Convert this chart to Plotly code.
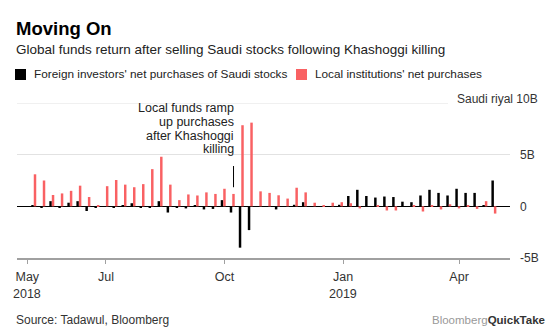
import plotly.graph_objects as go
import pandas as pd

# ---- data (billions of Saudi riyal, weekly) ----
week_start = "2018-05-06"
n_weeks = 52
foreign = [0.1, -0.15, 0.5, -0.1, 0.35, 0.5, -0.45, -0.1, -0.05, -0.1,
           0.1, 0.3, -0.1, -0.15, 0.5, -0.6, -0.1, -0.2, 0.05, -0.3,
           -0.25, 0.6, -0.6, -4.0, -2.3, 0.0, 0.0, -0.3, -0.05, 0.15,
           0.4, 0.0, 0.0, 0.0, 0.15, 1.0, 1.6, 1.0, 0.85, 0.95,
           0.9, 0.45, 0.4, 1.05, 1.6, 1.3, 1.05, 1.7, 1.3, 1.3,
           0.1, 2.5]
local = [3.1, 2.5, 1.1, 1.25, 1.5, 2.0, 0.9, 0.1, 1.95, 2.55,
         2.1, 1.85, 2.15, 3.6, 4.8, 2.1, 0.6, 1.15, 1.05, 1.35,
         1.2, 1.7, 1.2, 7.85, 8.1, 1.45, 1.3, 1.07, 0.75, 1.8,
         1.35, 0.35, 0.05, 0.35, 0.4, 0.3, -0.2, 0.0, 0.05, -0.4,
         -0.4, 0.0, 0.05, -0.5, 0.05, -0.3, 0.2, -0.2, 0.05, -0.25,
         0.5, -0.7]
tick_dates = ["2018-05-01", "2018-07-01", "2018-10-01", "2019-01-01", "2019-04-01"]
tick_labels = ["May", "Jul", "Oct", "Jan", "Apr"]
year_labels = [("2018-05-01", "2018"), ("2019-01-01", "2019")]
y_ticks = [-5, 0, 5]
y_tick_labels = ["-5B", "0", "5B"]
series_names = ["Foreign investors' net purchases of Saudi stocks",
                "Local institutions' net purchases"]
colors = ["#000000", "#f96163"]
event_week = "2018-10-08"
annotation_lines = ["Local funds ramp", "up purchases", "after Khashoggi", "killing"]

weeks = pd.date_range(week_start, periods=n_weeks, freq="7D")

W, H = 560, 331
L, R, T, B = 17, 50, 103, 73
PW, PH = W - L - R, H - T - B


def px(x):
    return (x - L) / PW


def py(y):
    return (H - B - y) / PH


FONT = "Liberation Sans, Arial, sans-serif"

fig = go.Figure()
fig.add_bar(x=weeks, y=foreign, name=series_names[0], marker_color=colors[0],
            marker_line_width=0, showlegend=False)
fig.add_bar(x=weeks, y=local, name=series_names[1], marker_color=colors[1],
            marker_line_width=0, showlegend=False)

fig.update_layout(
    width=W, height=H,
    margin=dict(l=L, r=R, t=T, b=B, pad=0),
    paper_bgcolor="white", plot_bgcolor="white",
    barmode="group", bargap=0.45, bargroupgap=0,
    font=dict(family=FONT, color="#333", size=12),
    xaxis=dict(type="date", range=["2018-04-23", "2019-05-10 12:00"],
               tickvals=tick_dates, ticktext=tick_labels,
               showgrid=False, zeroline=False,
               showline=True, linecolor="#a0a0a0", linewidth=2,
               ticks="outside", ticklen=4, tickcolor="#a0a0a0", tickwidth=1,
               ticklabelstandoff=2,
               tickfont=dict(size=12.5, color="#333")),
    yaxis=dict(range=[-5, 10], side="right", tickvals=y_ticks, ticktext=y_tick_labels,
               showgrid=True, gridcolor="#e2e2e2", gridwidth=1,
               zeroline=True, zerolinecolor="#000", zerolinewidth=1,
               showline=False, ticks="", ticklabelstandoff=9,
               tickfont=dict(size=12, color="#333")),
)

shapes = [
    dict(type="line", xref="paper", yref="y", x0=0, x1=px(448), y0=10, y1=10,
         line=dict(color="#e2e2e2", width=1)),
    dict(type="line", xref="x", yref="y", x0=event_week, x1=event_week, y0=1.85, y1=3.9,
         line=dict(color="#000", width=1)),
    dict(type="rect", xref="paper", yref="paper", x0=px(15), x1=px(26), y0=py(80), y1=py(69),
         fillcolor=colors[0], line_width=0),
    dict(type="rect", xref="paper", yref="paper", x0=px(296), x1=px(307), y0=py(80), y1=py(69),
         fillcolor=colors[1], line_width=0),
]
fig.update_layout(shapes=shapes)

ann = []


def text(x, y, s, size, color="#333", xanchor="left", bold=False):
    ann.append(dict(xref="paper", yref="paper", x=px(x), y=py(y), text=f"<b>{s}</b>" if bold else s,
                    showarrow=False, xanchor=xanchor, yanchor="middle",
                    font=dict(size=size, color=color, family=FONT)))


text(14, 28, "Moving On", 18.5, "#000", bold=True)
text(14, 49.6, "Global funds return after selling Saudi stocks following Khashoggi killing", 13.5, "#222")
text(32, 74.4, series_names[0], 11.8, "#222")
text(313, 74.4, series_names[1], 11.8, "#222")
text(540, 99, "Saudi riyal 10B", 12, "#333", xanchor="right")
text(14, 320, "Source: Tadawul, Bloomberg", 12, "#333")
text(547, 320, "<span style='color:#999'>Bloomberg</span><b>QuickTake</b>", 11.5, "#333", xanchor="right")

for i, line in enumerate(annotation_lines):
    ann.append(dict(xref="x", yref="paper", x=event_week, y=py(108.3 + i * 13.6), text=line,
                    showarrow=False, xanchor="right", yanchor="middle", xshift=2,
                    font=dict(size=12.5, color="#222", family=FONT)))

for d, yl in year_labels:
    ann.append(dict(xref="x", yref="paper", x=d, y=py(294), text=yl, showarrow=False,
                    xanchor="center", yanchor="middle",
                    font=dict(size=12.5, color="#333", family=FONT)))

fig.update_layout(annotations=ann)
fig.write_html("out.html")
